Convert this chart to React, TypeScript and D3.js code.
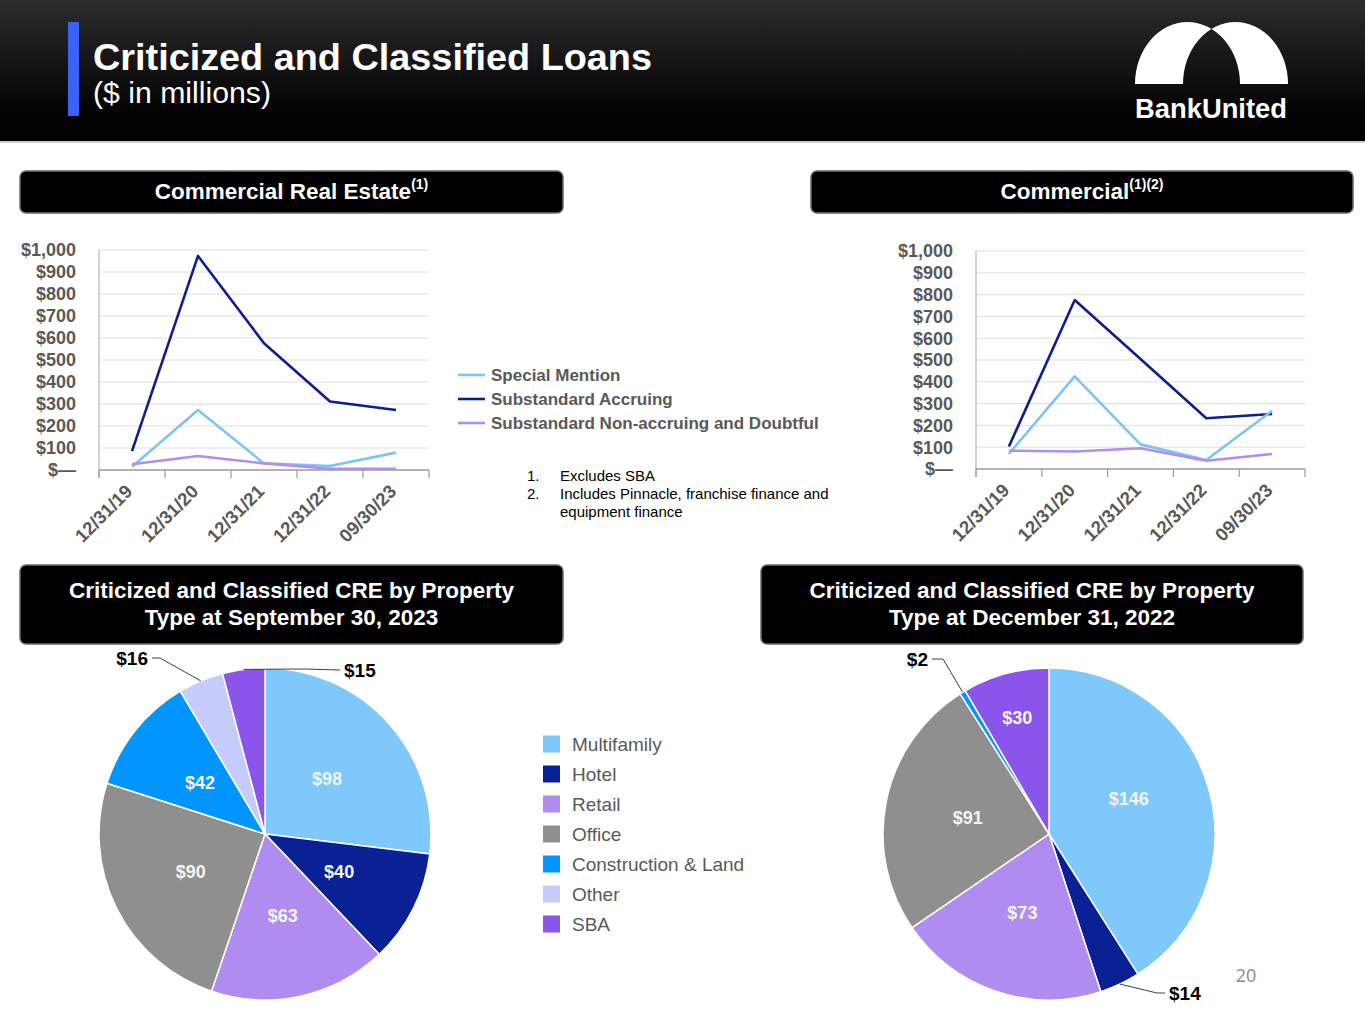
import React from "react";
import * as d3 from "d3";

// ---- data ----
const periods = ["12/31/19", "12/31/20", "12/31/21", "12/31/22", "09/30/23"];
const seriesNames = ["Special Mention", "Substandard Accruing", "Substandard Non-accruing and Doubtful"];

const creSpecialMention = [15, 273, 30, 18, 79];
const creSubAccruing = [86, 973, 576, 311, 273];
const creNonAccruing = [26, 64, 30, 6, 6];

const comSpecialMention = [69, 425, 113, 41, 267];
const comSubAccruing = [103, 775, 505, 233, 252];
const comNonAccruing = [84, 80, 95, 38, 69];

const yTicks = [0, 100, 200, 300, 400, 500, 600, 700, 800, 900, 1000];

const propertyTypes = ["Multifamily", "Hotel", "Retail", "Office", "Construction & Land", "Other", "SBA"];
const sep2023Values = [98, 40, 63, 90, 42, 16, 15];
const dec2022Values = [146, 14, 73, 91, 2, 0, 30];

const footnotes = ["Excludes SBA", "Includes Pinnacle, franchise finance and", "equipment finance"];

// ---- styles ----
const FONT = "'Liberation Sans', Arial, Helvetica, sans-serif";
const GRAY_TEXT = "#595959";
const lineColors = ["#7cc4f5", "#0b1f8f", "#b38cf0"];
const pieColors = ["#7fc8fb", "#0a2196", "#b08cf0", "#8f8f8f", "#0095ff", "#c5cbfa", "#8b55eb"];

type LineChartProps = {
  left: number;
  right: number;
  top: number;
  bottom: number;
  series: number[][];
};

const LineChart = ({ left, right, top, bottom, series }: LineChartProps) => {
  const x = d3.scaleBand<string>().domain(periods).range([left, right]).padding(0);
  const y = d3.scaleLinear().domain([0, 1000]).range([bottom, top]);
  const fmt = (v: number) => (v === 0 ? "$\u2014" : "$" + d3.format(",")(v));
  const line = d3
    .line<number>()
    .x((_, i) => (x(periods[i]) as number) + x.bandwidth() / 2)
    .y((d) => y(d));
  const edges = periods.map((p) => x(p) as number).concat([right]);
  // draw order: accruing first, then special mention, then non-accruing
  const order = [1, 0, 2];

  return (
    <g>
      {yTicks.map((t) => (
        <g key={t}>
          {t > 0 && <line x1={left} x2={right} y1={y(t)} y2={y(t)} stroke="#dedede" strokeWidth={1} />}
          <text
            x={left - 23}
            y={y(t)}
            dy="0.36em"
            textAnchor="end"
            fontFamily={FONT}
            fontWeight="bold"
            fontSize={18}
            fill={GRAY_TEXT}
          >
            {fmt(t)}
          </text>
        </g>
      ))}
      <line x1={left} x2={left} y1={top} y2={bottom + 8} stroke="#b5b5b5" strokeWidth={1.2} />
      <line x1={left} x2={right} y1={bottom} y2={bottom} stroke="#9a9a9a" strokeWidth={1.5} />
      {edges.map((e, i) => (
        <line key={i} x1={e} x2={e} y1={bottom} y2={bottom + 8} stroke="#9a9a9a" strokeWidth={1.2} />
      ))}
      {periods.map((p) => {
        const cx = (x(p) as number) + x.bandwidth() / 2;
        return (
          <text
            key={p}
            transform={`translate(${cx - 3},${bottom + 18}) rotate(-45)`}
            dy="0.35em"
            textAnchor="end"
            fontFamily={FONT}
            fontWeight="bold"
            fontSize={18.5}
            fill={GRAY_TEXT}
          >
            {p}
          </text>
        );
      })}
      {order.map((si) => (
        <path key={si} d={line(series[si]) || ""} fill="none" stroke={lineColors[si]} strokeWidth={2.6} strokeLinejoin="round" />
      ))}
    </g>
  );
};

type OutsideLabel = { elbow: [number, number]; end: [number, number]; anchor: "start" | "end" };

type PieProps = {
  cx: number;
  cy: number;
  r: number;
  values: number[];
  outside: Record<string, OutsideLabel>;
};

const Pie = ({ cx, cy, r, values, outside }: PieProps) => {
  const data = propertyTypes.map((name, i) => ({ name, value: values[i], color: pieColors[i] }));
  const arcs = d3
    .pie<{ name: string; value: number; color: string }>()
    .sort(null)
    .value((d) => d.value)(data);
  const arc = d3.arc<d3.PieArcDatum<any>>().innerRadius(0).outerRadius(r);

  return (
    <g transform={`translate(${cx},${cy})`}>
      {arcs
        .filter((a) => a.data.value > 0)
        .map((a) => (
          <path key={a.data.name} d={arc(a) || ""} fill={a.data.color} stroke="#ffffff" strokeWidth={1.5} />
        ))}
      {arcs
        .filter((a) => a.data.value > 0)
        .map((a) => {
          const span = a.endAngle - a.startAngle;
          const mid = (a.startAngle + a.endAngle) / 2;
          const label = "$" + a.data.value;
          const o = outside[a.data.name];
          if (o) {
            const ex = Math.sin(mid) * r;
            const ey = -Math.cos(mid) * r;
            const [bx, by] = o.elbow;
            const [tx, ty] = o.end;
            return (
              <g key={a.data.name}>
                <polyline
                  points={`${ex},${ey} ${bx},${by} ${tx},${ty}`}
                  fill="none"
                  stroke="#404040"
                  strokeWidth={1}
                />
                <text
                  x={o.anchor === "end" ? tx - 4 : tx + 4}
                  y={ty}
                  dy="0.36em"
                  textAnchor={o.anchor}
                  fontFamily={FONT}
                  fontWeight="bold"
                  fontSize={19}
                  fill="#000000"
                >
                  {label}
                </text>
              </g>
            );
          }
          // narrow slices get their label pushed outward
          const lr = span < 0.6 ? r * 0.73 : r * 0.5;
          const off = span > 2.2 ? -12 : 0;
          return (
            <text
              key={a.data.name}
              x={Math.sin(mid) * lr}
              y={-Math.cos(mid) * lr + off}
              dy="0.36em"
              textAnchor="middle"
              fontFamily={FONT}
              fontWeight="bold"
              fontSize={18}
              fill="#f4f4f4"
            >
              {label}
            </text>
          );
        })}
    </g>
  );
};

const HeaderBox = ({ x, y, w, h, lines, sup }: { x: number; y: number; w: number; h: number; lines: string[]; sup?: string }) => {
  const cx = x + w / 2;
  const lh = 27;
  const startY = y + h / 2 - ((lines.length - 1) * lh) / 2 - 1;
  return (
    <g>
      <rect x={x} y={y} width={w} height={h} rx={6} ry={6} fill="#000000" stroke="#6b6b6b" strokeWidth={1.5} />
      {lines.map((l, i) => (
        <text
          key={i}
          x={cx}
          y={startY + i * lh}
          dy="0.36em"
          textAnchor="middle"
          fontFamily={FONT}
          fontWeight="bold"
          fontSize={22.5}
          fill="#ffffff"
        >
          {l}
          {sup && i === lines.length - 1 && (
            <tspan fontSize={14} dy="-0.75em">
              {sup}
            </tspan>
          )}
        </text>
      ))}
    </g>
  );
};

export default function App() {
  const W = 1365;
  const H = 1024;
  return (
    <div style={{ position: "absolute", left: 0, top: 0 }}>
      <svg width={W} height={H} viewBox={`0 0 ${W} ${H}`} style={{ display: "block", background: "#ffffff" }}>
        <defs>
          <linearGradient id="hdr" x1="0" y1="0" x2="0" y2="1">
            <stop offset="0" stopColor="#2c2c2e" />
            <stop offset="0.75" stopColor="#050505" />
            <stop offset="1" stopColor="#000000" />
          </linearGradient>
        </defs>

        {/* header band */}
        <rect x={0} y={0} width={W} height={142} fill="url(#hdr)" />
        <rect x={0} y={141} width={W} height={2} fill="#cfcfcf" />
        <rect x={68} y={22} width={11} height={94} fill="#3a63f5" />
        <text x={93} y={70} fontFamily={FONT} fontWeight="bold" fontSize={37} fill="#ffffff" textLength={559} lengthAdjust="spacingAndGlyphs">
          Criticized and Classified Loans
        </text>
        <text x={93} y={103} fontFamily={FONT} fontSize={29} fill="#ffffff" textLength={178} lengthAdjust="spacingAndGlyphs">
          ($ in millions)
        </text>

        {/* logo */}
        <path
          d="M1135,84 A52.5,62 0 0 1 1240,84 Z M1183,84 A52.5,62 0 0 1 1288,84 Z"
          fill="#ffffff"
          fillRule="evenodd"
        />
        <text x={1135} y={118} fontFamily={FONT} fontWeight="bold" fontSize={28} fill="#ffffff" textLength={152} lengthAdjust="spacingAndGlyphs">
          BankUnited
        </text>

        {/* section headers */}
        <HeaderBox x={20} y={171} w={543} h={42} lines={["Commercial Real Estate"]} sup="(1)" />
        <HeaderBox x={811} y={171} w={542} h={42} lines={["Commercial"]} sup="(1)(2)" />
        <HeaderBox x={20} y={565} w={543} h={79} lines={["Criticized and Classified CRE by Property", "Type at September 30, 2023"]} />
        <HeaderBox x={761} y={565} w={542} h={79} lines={["Criticized and Classified CRE by Property", "Type at December 31, 2022"]} />

        {/* line charts */}
        <LineChart left={99} right={429} top={250} bottom={470} series={[creSpecialMention, creSubAccruing, creNonAccruing]} />
        <LineChart left={976} right={1305} top={251} bottom={469} series={[comSpecialMention, comSubAccruing, comNonAccruing]} />

        {/* line legend */}
        {seriesNames.map((n, i) => (
          <g key={n} transform={`translate(458,${375 + i * 24})`}>
            <line x1={0} x2={27} y1={0} y2={0} stroke={lineColors[i]} strokeWidth={2.6} />
            <text x={33} y={0} dy="0.36em" fontFamily={FONT} fontWeight="bold" fontSize={17} fill={GRAY_TEXT}>
              {n}
            </text>
          </g>
        ))}

        {/* footnotes */}
        <text x={527} y={476} dy="0.36em" fontFamily={FONT} fontSize={15} fill="#000000">1.</text>
        <text x={560} y={476} dy="0.36em" fontFamily={FONT} fontSize={15} fill="#000000">{footnotes[0]}</text>
        <text x={527} y={494} dy="0.36em" fontFamily={FONT} fontSize={15} fill="#000000">2.</text>
        <text x={560} y={494} dy="0.36em" fontFamily={FONT} fontSize={15} fill="#000000">{footnotes[1]}</text>
        <text x={560} y={512} dy="0.36em" fontFamily={FONT} fontSize={15} fill="#000000">{footnotes[2]}</text>

        {/* pies */}
        <Pie
          cx={265}
          cy={834}
          r={166}
          values={sep2023Values}
          outside={{
            Other: { elbow: [-105, -176], end: [-113, -176], anchor: "end" },
            SBA: { elbow: [40, -165], end: [75, -164], anchor: "start" },
          }}
        />
        <Pie
          cx={1049}
          cy={834}
          r={166}
          values={dec2022Values}
          outside={{
            "Construction & Land": { elbow: [-106, -175], end: [-117, -175], anchor: "end" },
            Hotel: { elbow: [108, 159], end: [116, 159], anchor: "start" },
          }}
        />

        {/* pie legend */}
        {propertyTypes.map((p, i) => (
          <g key={p} transform={`translate(543,${744 + i * 30})`}>
            <rect x={0} y={-8.5} width={17} height={17} fill={pieColors[i]} />
            <text x={29} y={0} dy="0.36em" fontFamily={FONT} fontSize={19} fill={GRAY_TEXT}>
              {p}
            </text>
          </g>
        ))}

        {/* page number */}
        <text x={1246} y={976} dy="0.36em" textAnchor="middle" fontFamily="'Open Sans', 'Liberation Sans', sans-serif" fontSize={18} fill="#8a8a8a">
          20
        </text>
      </svg>
    </div>
  );
}
